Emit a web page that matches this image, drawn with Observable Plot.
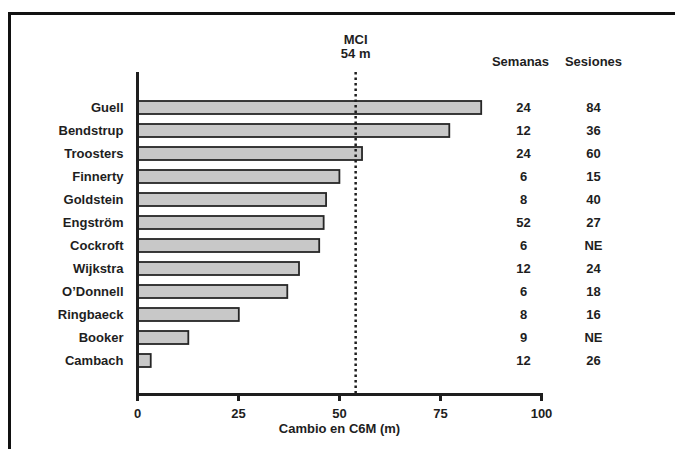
<!DOCTYPE html>
<html><head><meta charset="utf-8">
<script src="https://cdn.jsdelivr.net/npm/d3@7"></script>
<script src="https://cdn.jsdelivr.net/npm/@observablehq/plot@0.6"></script>
<style>
body{margin:0;background:#fff;}
#wrap{position:relative;width:675px;height:449px;overflow:hidden;background:#fff;}
#border{position:absolute;left:8px;top:12px;right:-10px;bottom:-10px;border-top:3px solid #111;border-left:3px solid #111;}
#wrap svg{position:absolute;left:0;top:0;}
</style></head><body><div id="wrap"><div id="border"></div></div>
<script>
const autores = ["Guell","Bendstrup","Troosters","Finnerty","Goldstein","Engström","Cockroft","Wijkstra","O’Donnell","Ringbaeck","Booker","Cambach"];
const cambio = [85.2, 77.3, 55.7, 50.1, 46.8, 46.2, 45.1, 40.1, 37.2, 25.2, 12.7, 3.4];
const semanas = ["24","12","24","6","8","52","6","12","6","8","9","12"];
const sesiones = ["84","36","60","15","40","27","NE","24","18","16","NE","26"];
const mci = 54;
const mciLabel = "MCI\n54 m";
const xTicks = [0, 25, 50, 75, 100];
const encabezados = ["Semanas", "Sesiones"];
const data = autores.map((a, i) => ({autor: a, cambio: cambio[i], semanas: semanas[i], sesiones: sesiones[i]}));
const font = "'Liberation Sans', Arial, sans-serif";
const ink = "#1e1e1e";
const chart = Plot.plot({
  width: 675, height: 449,
  marginLeft: 137, marginRight: 134, marginTop: 72, marginBottom: 55,
  style: {fontFamily: font, fontSize: "13px", fontWeight: "bold", color: ink, background: "transparent", overflow: "visible"},
  x: {domain: [0, 100], ticks: xTicks},
  y: {domain: autores, range: [94.4, 372.8], paddingInner: 0.44, paddingOuter: 0.22},
  marks: [
    Plot.barX(data, {x: "cambio", y: "autor", fill: "#c8c8c8", stroke: "#262626", strokeWidth: 1.8}),
    Plot.ruleX([mci], {stroke: ink, strokeWidth: 2.5, strokeDasharray: "2.5,3"}),
    Plot.ruleX([0], {stroke: ink, strokeWidth: 3}),
    Plot.frame({anchor: "bottom", stroke: ink, strokeWidth: 3}),
    Plot.axisX({ticks: xTicks, tickSize: 7, tickPadding: 7, strokeWidth: 3, stroke: ink, fill: ink, label: "Cambio en C6M (m)", labelAnchor: "center", labelArrow: "none", labelOffset: 38}),
    Plot.axisY({tickSize: 0, tickPadding: 14, fill: ink, label: null}),
    Plot.text([mciLabel], {x: mci, frameAnchor: "top", lineAnchor: "middle", dy: -26, fill: ink, lineHeight: 1.12}),
    Plot.text([encabezados[0]], {frameAnchor: "top-right", lineAnchor: "middle", dx: -21, dy: -11, textAnchor: "middle", fill: ink}),
    Plot.text([encabezados[1]], {frameAnchor: "top-right", lineAnchor: "middle", dx: 52, dy: -11, textAnchor: "middle", fill: ink}),
    Plot.text(data, {y: "autor", text: "semanas", frameAnchor: "right", dx: -18, textAnchor: "middle", fill: ink}),
    Plot.text(data, {y: "autor", text: "sesiones", frameAnchor: "right", dx: 52, textAnchor: "middle", fill: ink})
  ]
});
document.getElementById("wrap").appendChild(chart);
</script>
</body></html>
